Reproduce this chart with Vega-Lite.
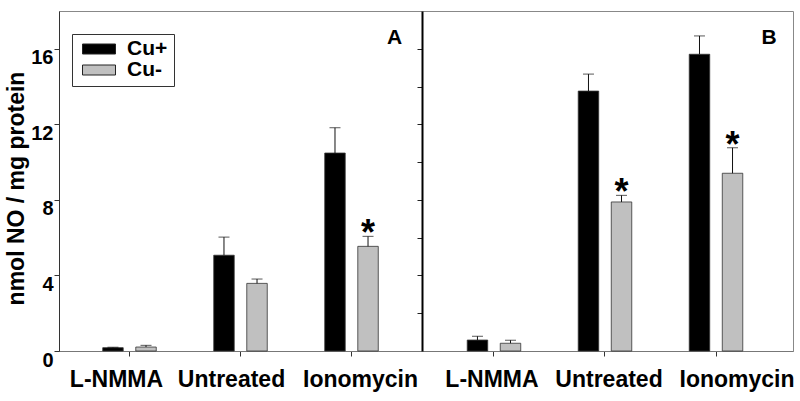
{
  "$schema": "https://vega.github.io/schema/vega-lite/v6.json",
  "background": "white",
  "padding": {"left": 5, "top": 10, "right": 10, "bottom": 0},
  "bounds": "flush",
  "spacing": 0,
  "config": {
    "font": "Liberation Sans",
    "view": {"stroke": "#888", "strokeWidth": 1},
    "axis": {"grid": false, "labelColor": "black", "titleColor": "black", "labelFontWeight": "bold", "titleFontWeight": "bold"}
  },
  "datasets": {
    "bars": [
      {"panel": "A", "treatment": "L-NMMA", "copper": "Cu+", "value": 0.175, "err": 0.2, "sig": ""},
      {"panel": "A", "treatment": "L-NMMA", "copper": "Cu-", "value": 0.21, "err": 0.3, "sig": ""},
      {"panel": "A", "treatment": "Untreated", "copper": "Cu+", "value": 5.07, "err": 6.03, "sig": ""},
      {"panel": "A", "treatment": "Untreated", "copper": "Cu-", "value": 3.58, "err": 3.81, "sig": ""},
      {"panel": "A", "treatment": "Ionomycin", "copper": "Cu+", "value": 10.48, "err": 11.82, "sig": ""},
      {"panel": "A", "treatment": "Ionomycin", "copper": "Cu-", "value": 5.54, "err": 6.07, "sig": "*"},
      {"panel": "B", "treatment": "L-NMMA", "copper": "Cu+", "value": 0.58, "err": 0.78, "sig": ""},
      {"panel": "B", "treatment": "L-NMMA", "copper": "Cu-", "value": 0.41, "err": 0.57, "sig": ""},
      {"panel": "B", "treatment": "Untreated", "copper": "Cu+", "value": 13.76, "err": 14.66, "sig": ""},
      {"panel": "B", "treatment": "Untreated", "copper": "Cu-", "value": 7.89, "err": 8.24, "sig": "*"},
      {"panel": "B", "treatment": "Ionomycin", "copper": "Cu+", "value": 15.71, "err": 16.68, "sig": ""},
      {"panel": "B", "treatment": "Ionomycin", "copper": "Cu-", "value": 9.41, "err": 10.76, "sig": "*"}
    ],
    "labels": [{"panel": "A", "label": "A"}, {"panel": "B", "label": "B"}]
  },
  "resolve": {"scale": {"color": "independent"}, "legend": {"color": "independent"}},
  "hconcat": [
    {
      "width": 363,
      "height": 340,
      "layer": [
        {
          "data": {"name": "bars"},
          "transform": [{"filter": "datum.panel === 'A'"}],
          "mark": {"type": "bar", "stroke": "#333", "strokeWidth": 0.8},
          "encoding": {
            "x": {"field": "treatment", "type": "nominal", "sort": ["L-NMMA", "Untreated", "Ionomycin"],
              "scale": {"paddingInner": 0, "paddingOuter": 0.135},
              "axis": {"title": null, "labelAngle": 0, "labelFontSize": 23, "labelPadding": 12, "tickSize": 5, "tickColor": "#333", "domainColor": "#777",
                "labelOffset": {"condition": [{"test": "datum.value === 'L-NMMA'", "value": -13}, {"test": "datum.value === 'Untreated'", "value": -9}], "value": 9}}},
            "xOffset": {"field": "copper", "type": "nominal", "sort": ["Cu+", "Cu-"], "scale": {"paddingInner": 0.38, "paddingOuter": 0.87}},
            "y": {"field": "value", "type": "quantitative", "scale": {"domain": [0, 18], "nice": false},
              "axis": {"values": [0, 4, 8, 12, 16], "title": "nmol NO / mg  protein", "titleFontSize": 23, "titlePadding": 2, "titleY": 177, "labelFontSize": 20, "labelPadding": 1, "labelOffset": 9, "tickSize": 5, "tickColor": "#333", "domainColor": "#333"}},
            "color": {"field": "copper", "type": "nominal", "scale": {"domain": ["Cu+", "Cu-"], "range": ["#000000", "#c0c0c0"]},
              "legend": {"orient": "none", "legendX": 13, "legendY": 23, "title": null, "labelFontSize": 21, "labelFontWeight": "bold", "labelColor": "black",
                "labelExpr": "datum.label + '    '",
                "symbolType": "M-1.2,-1H5.4V1H-1.2Z", "symbolSize": 100, "symbolStrokeColor": "#222", "symbolStrokeWidth": 1,
                "clipHeight": 18,
                "strokeColor": "#333", "fillColor": "white", "padding": 6, "rowPadding": 0, "labelOffset": 28}}
          }
        },
        {
          "data": {"name": "bars"},
          "transform": [{"filter": "datum.panel === 'A'"}],
          "mark": {"type": "rule", "color": "#111", "strokeWidth": 1},
          "encoding": {
            "x": {"field": "treatment", "type": "nominal", "sort": ["L-NMMA", "Untreated", "Ionomycin"]},
            "xOffset": {"field": "copper", "type": "nominal", "sort": ["Cu+", "Cu-"]},
            "y": {"field": "value", "type": "quantitative"},
            "y2": {"field": "err"}
          }
        },
        {
          "data": {"name": "bars"},
          "transform": [{"filter": "datum.panel === 'A'"}],
          "mark": {"type": "tick", "color": "#111", "thickness": 1, "size": 11},
          "encoding": {
            "x": {"field": "treatment", "type": "nominal", "sort": ["L-NMMA", "Untreated", "Ionomycin"]},
            "xOffset": {"field": "copper", "type": "nominal", "sort": ["Cu+", "Cu-"]},
            "y": {"field": "err", "type": "quantitative"}
          }
        },
        {
          "data": {"name": "bars"},
          "transform": [{"filter": "datum.panel === 'A'"}],
          "mark": {"type": "text", "fontSize": 36, "fontWeight": "bold", "baseline": "alphabetic", "dy": 9, "color": "black"},
          "encoding": {
            "x": {"field": "treatment", "type": "nominal", "sort": ["L-NMMA", "Untreated", "Ionomycin"]},
            "xOffset": {"field": "copper", "type": "nominal", "sort": ["Cu+", "Cu-"]},
            "y": {"field": "err", "type": "quantitative"},
            "text": {"field": "sig"}
          }
        },
        {
          "data": {"name": "labels"},
          "transform": [{"filter": "datum.panel === 'A'"}],
          "mark": {"type": "text", "fontSize": 21, "fontWeight": "bold", "baseline": "alphabetic", "dx": 43, "color": "black"},
          "encoding": {
            "x": {"datum": "Ionomycin", "type": "nominal"},
            "y": {"datum": 16.25, "type": "quantitative"},
            "text": {"field": "label"}
          }
        }
      ]
    },
    {
      "width": 371,
      "height": 340,
      "layer": [
        {
          "data": {"name": "bars"},
          "transform": [{"filter": "datum.panel === 'B'"}],
          "mark": {"type": "bar", "stroke": "#333", "strokeWidth": 0.8},
          "encoding": {
            "x": {"field": "treatment", "type": "nominal", "sort": ["L-NMMA", "Untreated", "Ionomycin"],
              "scale": {"paddingInner": 0, "paddingOuter": 0.171, "align": 0.434},
              "axis": {"title": null, "labelAngle": 0, "labelFontSize": 23, "labelPadding": 12, "tickSize": 5, "tickColor": "#333", "domainColor": "#777",
                "labelOffset": {"condition": [{"test": "datum.value === 'L-NMMA'", "value": -2}, {"test": "datum.value === 'Untreated'", "value": 4}], "value": 21}}},
            "xOffset": {"field": "copper", "type": "nominal", "sort": ["Cu+", "Cu-"], "scale": {"paddingInner": 0.38, "paddingOuter": 0.87}},
            "y": {"field": "value", "type": "quantitative", "scale": {"domain": [0, 18], "nice": false},
              "axis": {"values": [2, 4, 6, 8, 10, 12, 14, 16], "title": null, "labels": false, "tickSize": 5, "tickColor": "#222", "domainColor": "#000", "domainWidth": 2}},
            "color": {"field": "copper", "type": "nominal", "scale": {"domain": ["Cu+", "Cu-"], "range": ["#000000", "#c0c0c0"]}, "legend": null}
          }
        },
        {
          "data": {"name": "bars"},
          "transform": [{"filter": "datum.panel === 'B'"}],
          "mark": {"type": "rule", "color": "#111", "strokeWidth": 1},
          "encoding": {
            "x": {"field": "treatment", "type": "nominal", "sort": ["L-NMMA", "Untreated", "Ionomycin"]},
            "xOffset": {"field": "copper", "type": "nominal", "sort": ["Cu+", "Cu-"]},
            "y": {"field": "value", "type": "quantitative"},
            "y2": {"field": "err"}
          }
        },
        {
          "data": {"name": "bars"},
          "transform": [{"filter": "datum.panel === 'B'"}],
          "mark": {"type": "tick", "color": "#111", "thickness": 1, "size": 11},
          "encoding": {
            "x": {"field": "treatment", "type": "nominal", "sort": ["L-NMMA", "Untreated", "Ionomycin"]},
            "xOffset": {"field": "copper", "type": "nominal", "sort": ["Cu+", "Cu-"]},
            "y": {"field": "err", "type": "quantitative"}
          }
        },
        {
          "data": {"name": "bars"},
          "transform": [{"filter": "datum.panel === 'B'"}],
          "mark": {"type": "text", "fontSize": 36, "fontWeight": "bold", "baseline": "alphabetic", "dy": 9, "color": "black"},
          "encoding": {
            "x": {"field": "treatment", "type": "nominal", "sort": ["L-NMMA", "Untreated", "Ionomycin"]},
            "xOffset": {"field": "copper", "type": "nominal", "sort": ["Cu+", "Cu-"]},
            "y": {"field": "err", "type": "quantitative"},
            "text": {"field": "sig"}
          }
        },
        {
          "data": {"name": "labels"},
          "transform": [{"filter": "datum.panel === 'B'"}],
          "mark": {"type": "text", "fontSize": 21, "fontWeight": "bold", "baseline": "alphabetic", "dx": 53, "color": "black"},
          "encoding": {
            "x": {"datum": "Ionomycin", "type": "nominal"},
            "y": {"datum": 16.25, "type": "quantitative"},
            "text": {"field": "label"}
          }
        }
      ]
    }
  ]
}
